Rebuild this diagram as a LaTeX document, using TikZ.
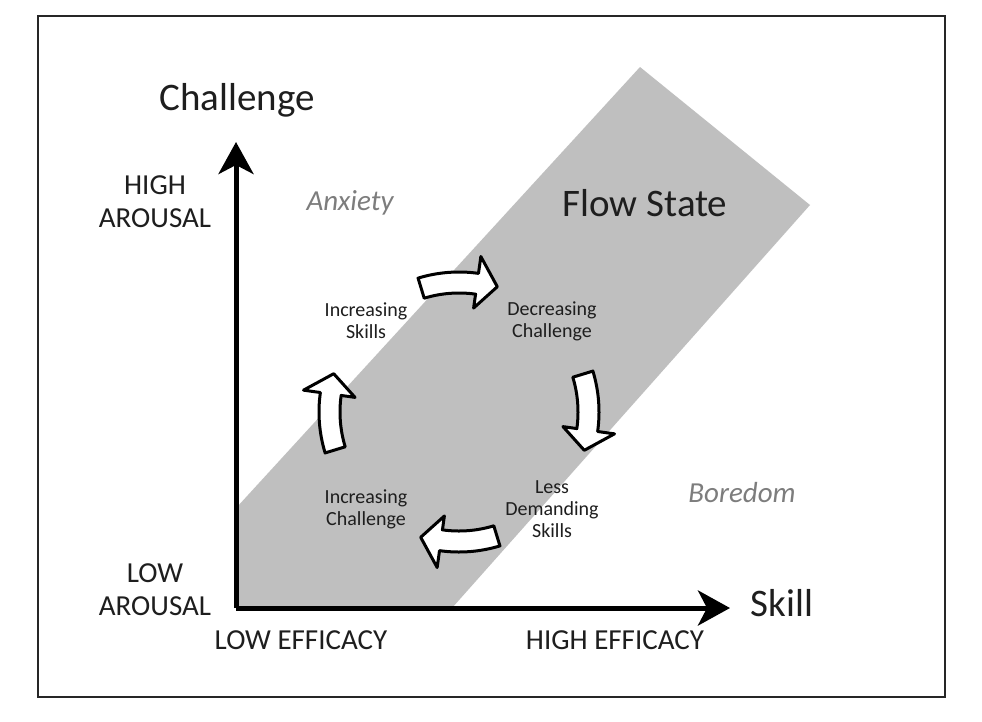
\documentclass[tikz,border=0pt]{standalone}
\usepackage{fontspec}
\setmainfont{Carlito}
\usetikzlibrary{arrows.meta}
\definecolor{bandgray}{RGB}{191,191,191}
\definecolor{labgray}{RGB}{125,125,125}
\definecolor{txt}{RGB}{30,30,30}
\tikzset{
  axis/.style={line width=5pt, -{Stealth[length=32pt,width=35pt,inset=9pt]}},
  big/.style={font=\fontsize{39}{44}\selectfont, text=txt},
  mid/.style={font=\fontsize{29}{33}\selectfont, text=txt, align=center},
  ital/.style={font=\fontsize{29}{34}\selectfont\itshape, text=labgray},
  small/.style={font=\fontsize{20}{22}\selectfont, text=txt, align=center},
  cyc/.style={draw=black, fill=white, line width=3pt, line join=round}
}
\newcommand{\cycarrow}[1]{%
  \draw[cyc] (#1:140) arc[start angle=#1, end angle=#1+25, radius=140]
    -- (#1+25:157) -- (#1+34:131) -- (#1+25:105) -- (#1+25:119)
    arc[start angle=#1+25, end angle=#1, radius=119] -- cycle;}
\begin{document}
\begin{tikzpicture}[x=1pt,y=-1pt]
\useasboundingbox (0,0) rectangle (982,721);
\fill[white] (0,0) rectangle (982,721);
\draw[line width=2pt, black!85] (38,16) rectangle (945,697);
% band
\fill[bandgray] (237,608) -- (237,507) -- (640,67) -- (810,205) -- (452,608) -- cycle;
% axes
\coordinate (o) at (236,608);
\coordinate (ytip) at (236,142);
\coordinate (xtip) at (730,608);
\draw[axis] (o) -- (ytip);
\draw[axis] (o) -- (xtip);
% cycle arrows
\begin{scope}[shift={(459,412)}]
  \cycarrow{-107}
  \cycarrow{-17}
  \cycarrow{73}
  \cycarrow{163}
\end{scope}
% labels
\node[big] (chal) at (237,100) {Challenge};
\node[big] (flow) at (645,203) {Flow State};
\node[big] (skill) at (782,603) {Skill};
\node[mid] (hi) at (155,202) {HIGH\\AROUSAL};
\node[mid] (lo) at (155,590) {LOW\\AROUSAL};
\node[mid] (le) at (301,640) {LOW EFFICACY};
\node[mid] (he) at (615,640) {HIGH EFFICACY};
\node[ital] (anx) at (350,203) {Anxiety};
\node[ital] (bor) at (742,493) {Boredom};
\node[small] (is) at (366,321) {Increasing\\Skills};
\node[small] (dc) at (552,321) {Decreasing\\Challenge};
\node[small] (ic) at (366,509) {Increasing\\Challenge};
\node[small] (ld) at (552,509) {Less\\Demanding\\Skills};
\end{tikzpicture}
\end{document}
